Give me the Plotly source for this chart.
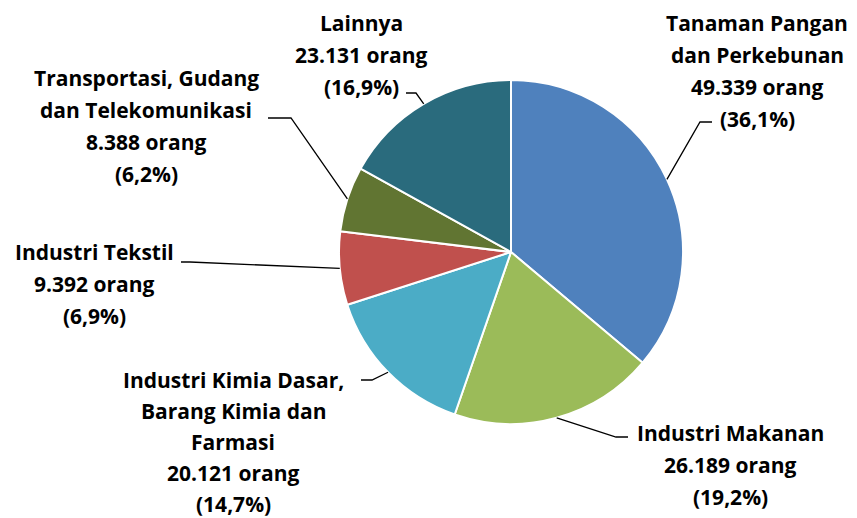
import math
import plotly.graph_objects as go

# ---- data ----
categories = ["Tanaman Pangan dan Perkebunan", "Industri Makanan",
              "Industri Kimia Dasar, Barang Kimia dan Farmasi", "Industri Tekstil",
              "Transportasi, Gudang dan Telekomunikasi", "Lainnya"]
values = [49339, 26189, 20121, 9392, 8388, 23131]
pct_labels = ["36,1%", "19,2%", "14,7%", "6,9%", "6,2%", "16,9%"]
value_labels = ["49.339", "26.189", "20.121", "9.392", "8.388", "23.131"]
name_lines = [["Tanaman Pangan", "dan Perkebunan"],
              ["Industri Makanan"],
              ["Industri Kimia Dasar,", "Barang Kimia dan", "Farmasi"],
              ["Industri Tekstil"],
              ["Transportasi, Gudang", "dan Telekomunikasi"],
              ["Lainnya"]]
colors = ["#4F81BD", "#9BBB59", "#4BACC6", "#C0504D", "#617532", "#2A6B7D"]

# ---- layout (pixels in the final page) ----
W, H = 857, 518
OFF = 8  # page body margin
CX, CY, R = 511, 252, 172
# label block: center x, first line y, line spacing
label_pos = [(757, 23, 32), (730, 433, 32), (233, 380, 31), (94, 252, 32), (146, 78, 32), (361, 23, 32)]
# leader line: elbow point, end point (near text)
leader = [((700, 122), (712, 122)),
          ((616, 437), (628, 437)),
          ((372, 380), (361, 380)),
          ((190, 262), (181, 262)),
          ((291, 118), (268, 118)),
          ((416, 93), (406, 93))]

def px(x):
    return (x - OFF) / W

def py(y):
    return 1 - (y - OFF) / H

FONT = "Open Sans"
fig = go.Figure()
fig.add_trace(go.Pie(
    labels=categories, values=values, sort=False, direction="clockwise",
    rotation=0, marker=dict(colors=colors, line=dict(color="white", width=2)),
    textinfo="none", hoverinfo="label+value+percent", showlegend=False,
    domain=dict(x=[px(CX - R), px(CX + R)], y=[py(CY + R), py(CY - R)]),
))

annotations = []
shapes = []
total = sum(values)
cum = 0
for i, v in enumerate(values):
    mid = (cum + v / 2) / total * 2 * math.pi
    cum += v
    sx = CX + R * math.sin(mid)
    sy = CY - R * math.cos(mid)
    lines = name_lines[i] + [value_labels[i] + " orang", "(" + pct_labels[i] + ")"]
    cx, y0, dy = label_pos[i]
    for j, t in enumerate(lines):
        annotations.append(dict(
            x=px(cx), y=py(y0 + j * dy), xref="paper", yref="paper",
            text="<b>" + t + "</b>", showarrow=False, xanchor="center", yanchor="middle",
            font=dict(family=FONT, size=21, color="#000000")))
    (ex, ey), (tx, ty) = leader[i]
    path = f"M {px(sx)} {py(sy)} L {px(ex)} {py(ey)} L {px(tx)} {py(ty)}"
    shapes.append(dict(type="path", path=path, xref="paper", yref="paper",
                       line=dict(color="#000000", width=1.3)))

fig.update_layout(
    width=W, height=H, margin=dict(l=0, r=0, t=0, b=0),
    paper_bgcolor="white", plot_bgcolor="white",
    annotations=annotations, shapes=shapes,
)
fig.write_html("out.html")
